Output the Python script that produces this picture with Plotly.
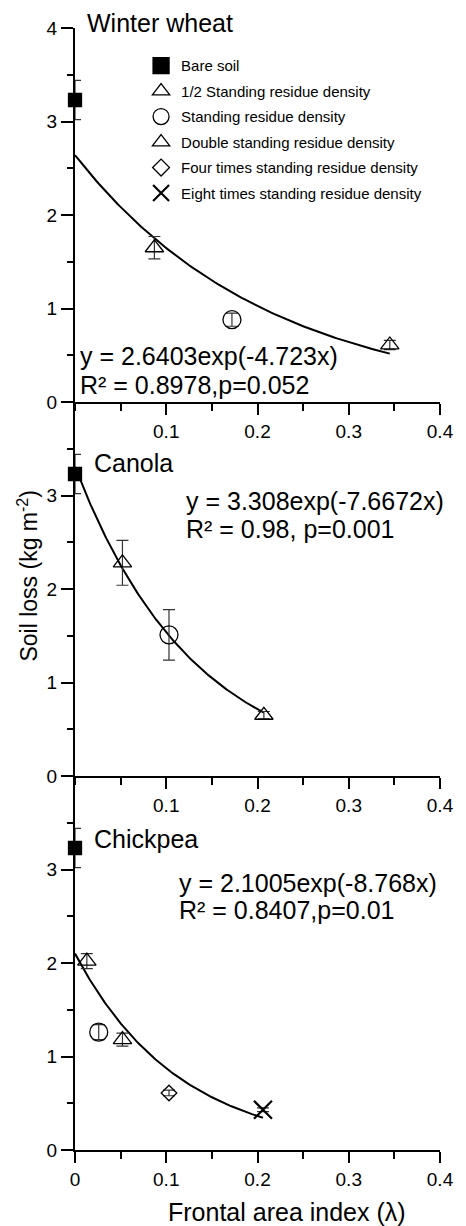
import numpy as np
import plotly.graph_objects as go

# ---------------- data ----------------
categories = ["Bare soil", "1/2 Standing residue density", "Standing residue density",
              "Double standing residue density", "Four times standing residue density",
              "Eight times standing residue density"]

panel_names = ["Winter wheat", "Canola", "Chickpea"]

wheat_cat = [0, 1, 2, 3]
wheat_x = [0.0, 0.087, 0.172, 0.345]
wheat_y = [3.23, 1.65, 0.88, 0.61]
wheat_err = [0.21, 0.12, 0.07, 0.05]

canola_cat = [0, 1, 2, 3]
canola_x = [0.0, 0.052, 0.103, 0.207]
canola_y = [3.23, 2.28, 1.51, 0.65]
canola_err = [0.21, 0.24, 0.27, 0.04]

chickpea_cat = [0, 1, 2, 3, 4, 5]
chickpea_x = [0.0, 0.013, 0.026, 0.052, 0.103, 0.206]
chickpea_y = [3.23, 2.02, 1.26, 1.18, 0.61, 0.43]
chickpea_err = [0.21, 0.08, 0.08, 0.07, 0.03, 0.02]

fit_a = [2.6403, 3.308, 2.1005]
fit_b = [-4.723, -7.6672, -8.768]
eq_text = ["y = 2.6403exp(-4.723x)", "y = 3.308exp(-7.6672x)", "y = 2.1005exp(-8.768x)"]
r2_text = ["R² = 0.8978,p=0.052", "R² = 0.98, p=0.001", "R² = 0.8407,p=0.01"]

x_ticks_bottom = [0, 0.1, 0.2, 0.3, 0.4]
x_ticks_upper = [0.1, 0.2, 0.3, 0.4]
y_ticks_top = [0, 1, 2, 3, 4]
y_ticks_lower = [0, 1, 2, 3]

# ---------------- styles ----------------
FONT = "Liberation Sans, Arial, sans-serif"
symbols = ["square", "triangle-up-open", "circle-open", "triangle-up-open", "diamond-open", "x-thin-open"]
sizes = [13, 16, 18, 16, 12, 18]
leg_sizes = [16, 15, 16, 15, 13, 16]

panels = [
    (wheat_cat, wheat_x, wheat_y, wheat_err),
    (canola_cat, canola_x, canola_y, canola_err),
    (chickpea_cat, chickpea_x, chickpea_y, chickpea_err),
]

fig = go.Figure()

for p, (cats, xs, ys, es) in enumerate(panels):
    xa = "x" if p == 0 else f"x{p+1}"
    ya = "y" if p == 0 else f"y{p+1}"
    # fitted exponential curve from the printed coefficients
    xf = np.linspace(0, max(xs), 120)
    yf = fit_a[p] * np.exp(fit_b[p] * xf)
    fig.add_trace(go.Scatter(x=xf, y=yf, mode="lines", line=dict(color="black", width=2),
                             showlegend=False, xaxis=xa, yaxis=ya, hoverinfo="skip"))
    for c, x, y, e in zip(cats, xs, ys, es):
        fig.add_trace(go.Scatter(
            x=[x], y=[y], mode="markers", showlegend=False, xaxis=xa, yaxis=ya,
            error_y=dict(type="data", array=[e], color="#333", thickness=1.2, width=6),
            marker=dict(symbol=symbols[c], size=sizes[c], color="black",
                        line=dict(color="black", width=2.2 if c == 5 else 1.3)),
            cliponaxis=False,
        ))

# legend-only entries
for c, name in enumerate(categories):
    fig.add_trace(go.Scatter(
        x=[None], y=[None], mode="markers", name=name, legendgroup=name,
        marker=dict(symbol=symbols[c], size=leg_sizes[c], color="black",
                    line=dict(color="black", width=2.2 if c == 5 else 1.3)),
        xaxis="x", yaxis="y",
    ))

axis_common = dict(showline=True, linecolor="black", linewidth=2, ticks="outside",
                   tickcolor="black", tickwidth=2, showgrid=False, zeroline=False,
                   tickfont=dict(family=FONT, size=19, color="black"))

domains = [[2/3, 1], [1/3, 2/3], [0, 1/3]]
for p in range(3):
    xk = "xaxis" if p == 0 else f"xaxis{p+1}"
    yk = "yaxis" if p == 0 else f"yaxis{p+1}"
    xt = x_ticks_bottom if p == 2 else x_ticks_upper
    yt = y_ticks_top if p == 0 else y_ticks_lower
    fig.layout[xk] = dict(axis_common, range=[0, 0.4], tickvals=xt,
                          ticktext=[f"{v:g}" for v in xt],
                          ticklen=11, anchor="y" if p == 0 else f"y{p+1}", domain=[0, 1],
                          minor=dict(dtick=0.05, tick0=0, ticks="outside", ticklen=7,
                                     tickwidth=2, tickcolor="black"))
    fig.layout[yk] = dict(axis_common, range=[0, 4], tickvals=yt,
                          ticktext=[str(v) for v in yt],
                          ticklen=12, anchor="x" if p == 0 else f"x{p+1}", domain=domains[p],
                          minor=dict(dtick=0.5, tick0=0, ticks="outside", ticklen=6,
                                     tickwidth=2, tickcolor="black"))

ann = []
# panel titles in axis-domain coordinates (x: fraction of width, y: fraction of panel height)
title_pos = [(0.0266, 1.0128), (0.0479, 0.837), (0.0479, 0.832)]
eq_pos = [(0.003, 0.49, 0.18), (0.119, 2.94, 2.64), (0.112, 2.86, 2.57)]
for p in range(3):
    xr = "x" if p == 0 else f"x{p+1}"
    yr = "y" if p == 0 else f"y{p+1}"
    tx, ty = title_pos[p]
    ann.append(dict(x=tx, y=ty, xref=f"{xr} domain", yref=f"{yr} domain", text=panel_names[p],
                    showarrow=False, xanchor="left", yanchor="middle",
                    font=dict(family=FONT, size=25, color="black")))
    ex, ey1, ey2 = eq_pos[p]
    ann.append(dict(x=ex, y=ey1, xref=xr, yref=yr, text=eq_text[p], showarrow=False,
                    xanchor="left", yanchor="middle", font=dict(family=FONT, size=25, color="black")))
    ann.append(dict(x=ex, y=ey2, xref=xr, yref=yr, text=r2_text[p], showarrow=False,
                    xanchor="left", yanchor="middle", font=dict(family=FONT, size=25, color="black")))

ann.append(dict(x=-0.130, y=0.5116, xref="paper", yref="paper", text="Soil loss (kg m<sup>-2</sup>)",
                textangle=-90, showarrow=False, xanchor="center", yanchor="middle",
                font=dict(family=FONT, size=23, color="black")))
ann.append(dict(x=0.580, y=-0.0553, xref="paper", yref="paper", text="Frontal area index (λ)",
                showarrow=False, xanchor="center", yanchor="middle",
                font=dict(family=FONT, size=25, color="black")))

fig.update_layout(
    width=466, height=1226,
    margin=dict(l=75, r=15, t=28, b=76),
    paper_bgcolor="white", plot_bgcolor="white",
    annotations=ann,
    showlegend=True,
    legend=dict(x=0.181, y=0.981, xanchor="left", yanchor="top", bgcolor="rgba(0,0,0,0)",
                font=dict(family=FONT, size=15, color="black"), tracegroupgap=3,
                itemsizing="trace"),
)

fig.write_html("out.html")
